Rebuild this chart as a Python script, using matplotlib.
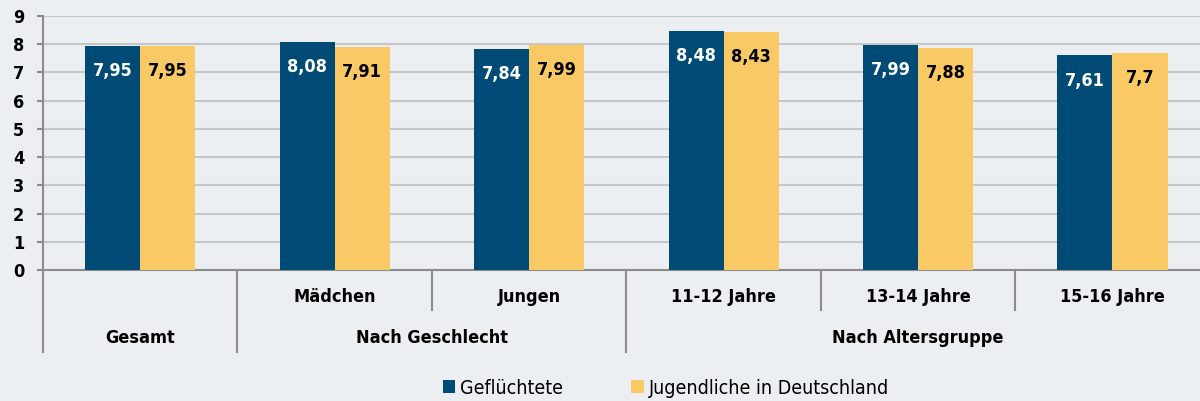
import numpy as np
import matplotlib
matplotlib.use("Agg")
import matplotlib.pyplot as plt
from matplotlib.patches import Patch
import matplotlib.transforms as mtransforms

plt.rcParams['font.family'] = ['DejaVu Sans']
plt.rcParams['font.stretch'] = 'condensed'

categories = ['', 'Mädchen', 'Jungen', '11-12 Jahre', '13-14 Jahre', '15-16 Jahre']
groups = ['Gesamt', 'Nach Geschlecht', 'Nach Altersgruppe']
group_spans = [(0, 0), (1, 2), (3, 5)]
gefluechtete = [7.95, 8.08, 7.84, 8.48, 7.99, 7.61]
jugendliche = [7.95, 7.91, 7.99, 8.43, 7.88, 7.70]
series_names = ['Geflüchtete', 'Jugendliche in Deutschland']

blue = '#004b76'
yellow = '#f8c964'
bg = '#eceff2'
grid_c = '#c4c6c8'
axis_c = '#8c8c8c'

fig = plt.figure(figsize=(12, 4.01), dpi=100, facecolor=bg)
ax = fig.add_axes([43 / 1200, 131 / 401, 1 - 43 / 1200, 254 / 401], facecolor=bg)

x = np.arange(len(categories))
w = 0.283
ax.bar(x - w / 2, gefluechtete, w, color=blue, zorder=3)
ax.bar(x + w / 2, jugendliche, w, color=yellow, zorder=3)

def fmt(v):
    s = ('%.2f' % v).rstrip('0').rstrip('.')
    return s.replace('.', ',')

for i in range(len(categories)):
    ax.text(x[i] - w / 2, gefluechtete[i] - 0.9, fmt(gefluechtete[i]), color='white',
            ha='center', va='center', fontsize=13, fontweight='bold', zorder=4)
    ax.text(x[i] + w / 2, jugendliche[i] - 0.9, fmt(jugendliche[i]), color='black',
            ha='center', va='center', fontsize=13, fontweight='bold', zorder=4)

ax.set_xlim(-0.5, 5.45)
ax.set_ylim(0, 9)
ax.set_yticks(range(10))
ax.set_yticklabels([str(i) for i in range(10)], fontsize=13, fontweight='bold')
ax.yaxis.grid(True, color=grid_c, linewidth=1.5, zorder=0)
ax.tick_params(axis='y', length=4.5, width=1.5, color=axis_c, pad=9)
ax.set_xticks([])
for s in ['top', 'right']:
    ax.spines[s].set_visible(False)
for s in ['left', 'bottom']:
    ax.spines[s].set_color(axis_c)
    ax.spines[s].set_linewidth(1.5)

# hierarchical category axis
trans = mtransforms.blended_transform_factory(ax.transData, ax.transAxes)
short_y = -40 / 254
long_y = -82 / 254
boundaries = [-0.5 + k for k in range(1, len(categories))]
group_edges = [g[1] + 0.5 for g in group_spans[:-1]]
ax.plot([-0.5, -0.5], [0, long_y], color=axis_c, lw=1.5, transform=trans, clip_on=False)
for b in boundaries:
    yb = long_y if any(abs(b - e) < 1e-6 for e in group_edges) else short_y
    ax.plot([b, b], [0, yb], color=axis_c, lw=1.5, transform=trans, clip_on=False)
for i, c in enumerate(categories):
    ax.text(x[i], -27 / 254, c, transform=trans, ha='center', va='center',
            fontsize=13, fontweight='bold')
for g, (a, b) in zip(groups, group_spans):
    ax.text((a + b) / 2, -68 / 254, g, transform=trans, ha='center', va='center',
            fontsize=13, fontweight='bold')

handles = [Patch(facecolor=blue), Patch(facecolor=yellow)]
fig.legend(handles, series_names, loc='center', bbox_to_anchor=(666 / 1200, 1 - 388 / 401),
           ncol=2, frameon=False, fontsize=14, handlelength=0.65, handleheight=0.65,
           handletextpad=0.25, columnspacing=3.5)

fig.savefig('out.png', dpi=100, facecolor=bg)
